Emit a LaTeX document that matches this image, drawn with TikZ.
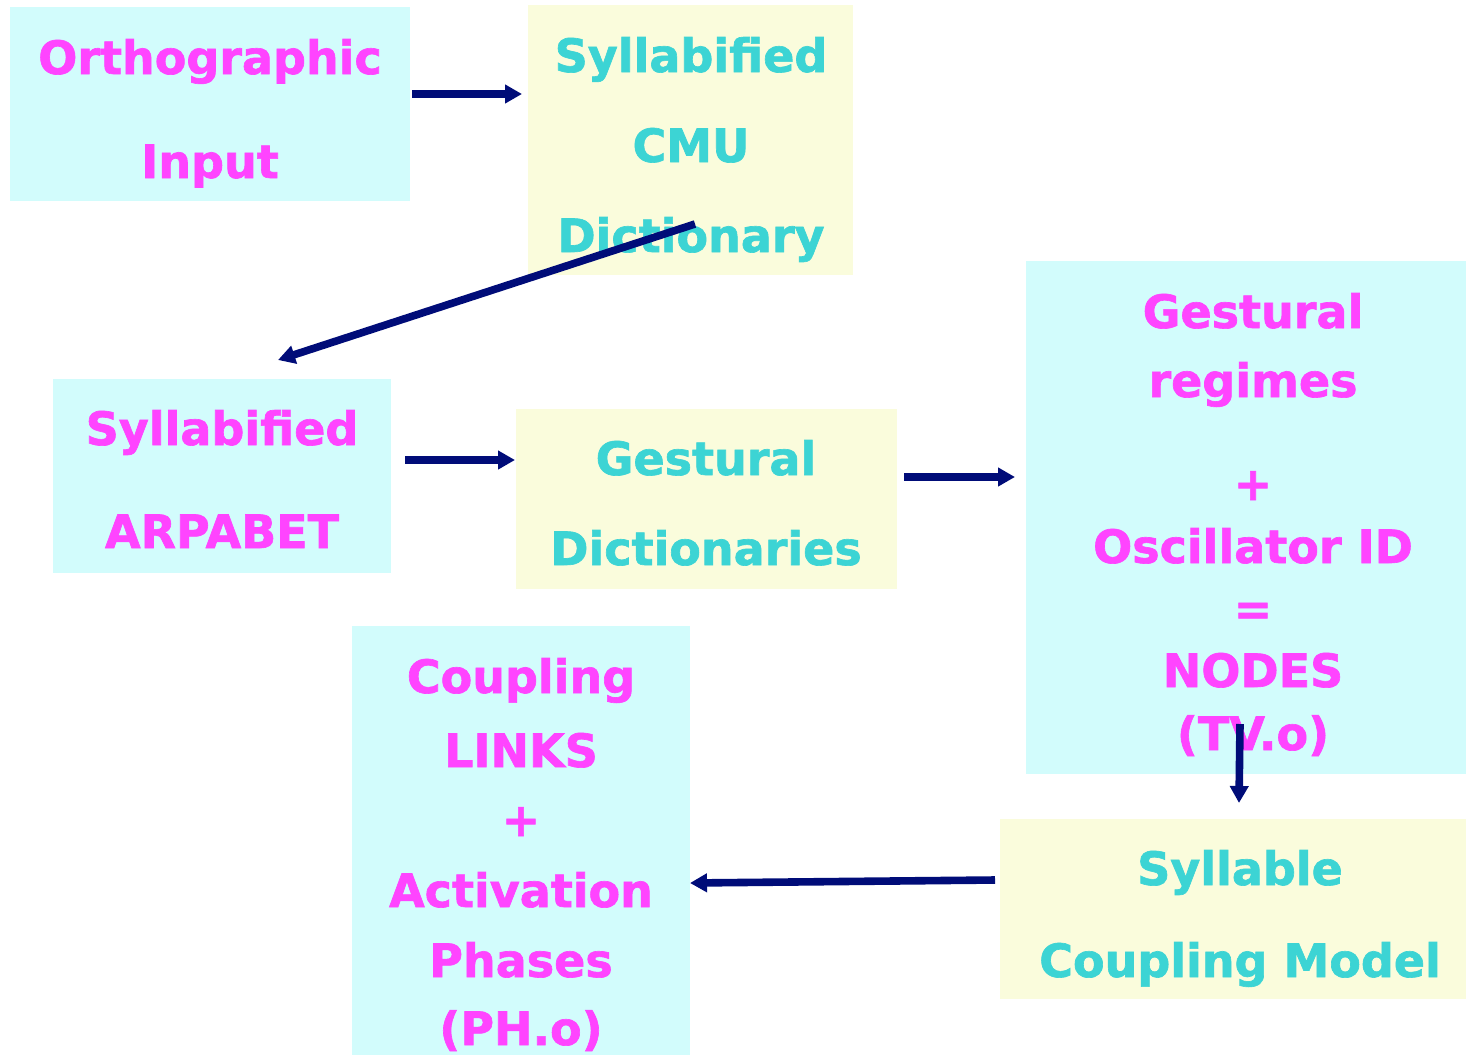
\documentclass[tikz,border=0pt]{standalone}
\usepackage{fontspec}
\setmainfont{DejaVu Sans}
\newfontfamily\heavyfont{DejaVu Sans Bold}[FakeBold=1.4]
\usetikzlibrary{arrows.meta}
\definecolor{boxcyan}{HTML}{D2FCFC}
\definecolor{boxyellow}{HTML}{FAFCDC}
\definecolor{txtpink}{HTML}{FF44FF}
\definecolor{txtteal}{HTML}{3CD4D4}
\definecolor{flownavy}{HTML}{000C78}
\begin{document}
\begin{tikzpicture}[x=0.5pt,y=-0.5pt,
  panel/.style={inner sep=0pt, outer sep=0pt},
  cyanbox/.style={panel, fill=boxcyan},
  yellowbox/.style={panel, fill=boxyellow},
  lbl/.style={anchor=base, inner sep=0pt, font=\heavyfont\fontsize{23}{28}\selectfont},
  pink/.style={lbl, text=txtpink},
  teal/.style={lbl, text=txtteal},
  flow/.style={draw=flownavy, line width=3.8pt,
    -{Triangle[length=8.5pt,width=9pt]}}]
\useasboundingbox (0,0) rectangle (1466,1055);

% boxes
\node[cyanbox, minimum width=200pt, minimum height=97pt] (ortho) at (210,104) {};
\node[yellowbox, minimum width=162.5pt, minimum height=135pt] (cmu) at (690.5,140) {};
\node[cyanbox, minimum width=169pt, minimum height=97pt] (arpa) at (222,476) {};
\node[yellowbox, minimum width=190.5pt, minimum height=90pt] (gdict) at (706.5,499) {};
\node[cyanbox, minimum width=220pt, minimum height=256.5pt] (nodes) at (1246,517.5) {};
\node[yellowbox, minimum width=233pt, minimum height=90pt] (scm) at (1233,909) {};
\node[cyanbox, minimum width=169pt, minimum height=214.5pt] (links) at (521,840.5) {};

% labels
\node[pink] (ortho1) at (210,74) {Orthographic};
\node[pink] (ortho2) at (210,178) {Input};

\node[teal] (cmu1) at (691,72) {Syllabified};
\node[teal] (cmu2) at (691,162) {CMU};
\node[teal] (cmu3) at (691,252) {Dictionary};

\node[pink] (arpa1) at (222,445) {Syllabified};
\node[pink] (arpa2) at (222,548) {ARPABET};

\node[teal] (gdict1) at (706,475) {Gestural};
\node[teal] (gdict2) at (706,565) {Dictionaries};

\node[pink] (nodes1) at (1253,328) {Gestural};
\node[pink] (nodes2) at (1253,397) {regimes};
\node[pink] (nodes3) at (1253,500) {+};
\node[pink] (nodes4) at (1253,563) {Oscillator ID};
\node[pink] (nodes5) at (1253,625) {=};
\node[pink] (nodes6) at (1253,687) {NODES};
\node[pink] (nodes7) at (1253,750) {(TV.o)};

\node[teal] (scm1) at (1240,885) {Syllable};
\node[teal] (scm2) at (1240,977) {Coupling Model};

\node[pink] (links1) at (521,693) {Coupling};
\node[pink] (links2) at (521,767) {LINKS};
\node[pink] (links3) at (521,836) {+};
\node[pink] (links4) at (521,907) {Activation};
\node[pink] (links5) at (521,977) {Phases};
\node[pink] (links6) at (521,1045) {(PH.o)};

% connector end points
\coordinate (orthoOut) at (412,94);
\coordinate (cmuIn) at (522,94);
\coordinate (cmuOut) at (695,224);
\coordinate (arpaIn) at (278,360);
\coordinate (arpaOut) at (405,460);
\coordinate (gdictIn) at (515,460);
\coordinate (gdictOut) at (904,477);
\coordinate (nodesIn) at (1015,477);
\coordinate (nodesOut) at (1240,724);
\coordinate (scmIn) at (1239,803);
\coordinate (scmOut) at (995,880);
\coordinate (linksIn) at (690,883);

% connectors
\draw[flow] (orthoOut) -- (cmuIn);
\draw[flow] (cmuOut) -- (arpaIn);
\draw[flow] (arpaOut) -- (gdictIn);
\draw[flow] (gdictOut) -- (nodesIn);
\draw[flow] (nodesOut) -- (scmIn);
\draw[flow] (scmOut) -- (linksIn);
\end{tikzpicture}
\end{document}
